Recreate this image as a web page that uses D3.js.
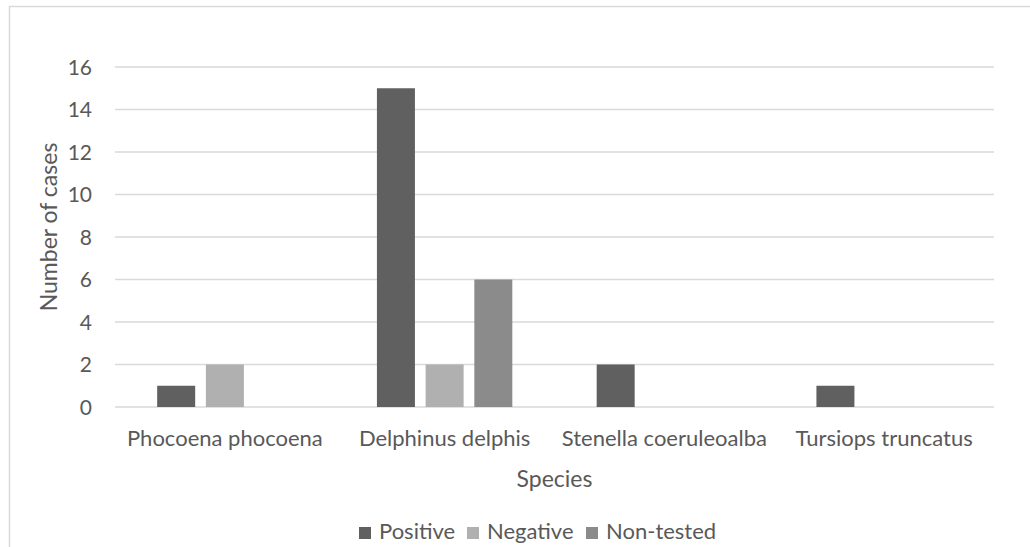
<!DOCTYPE html>
<html><head><meta charset="utf-8">
<script src="https://cdn.jsdelivr.net/npm/d3@7"></script>
<style>
body{margin:0;background:#fff;}
svg text{font-family:"Lato","Open Sans",sans-serif;fill:#595959;}
</style></head>
<body><svg id="c" width="1030" height="547"></svg>
<script>
const categories = ["Phocoena phocoena","Delphinus delphis","Stenella coeruleoalba","Tursiops truncatus"];
const seriesNames = ["Positive","Negative","Non-tested"];
const positive = [1,15,2,1];
const negative = [2,2,0,0];
const nonTested = [0,6,0,0];
const yTicks = [0,2,4,6,8,10,12,14,16];
const colors = ["#606060","#b0b0b0","#8b8b8b"];

const svg = d3.select("#c");
svg.append("rect").attr("x",9.5).attr("y",6.5).attr("width",1030).attr("height",560)
  .attr("fill","#fff").attr("stroke","#d9d9d9").attr("stroke-width",1.5);

const L=115, R=994, T=67, B=407;
const x = d3.scaleBand().domain(categories).range([L,R]).paddingInner(0).paddingOuter(0);
const y = d3.scaleLinear().domain([0,16]).range([B,T]);
const series = [positive,negative,nonTested];
const barW = 38, gap = 10.7;

// gridlines
svg.append("g").selectAll("line").data(yTicks).join("line")
  .attr("x1",L).attr("x2",R).attr("y1",d=>y(d)).attr("y2",d=>y(d))
  .attr("stroke","#d9d9d9").attr("stroke-width",1.5);

// y tick labels
const yAxis = d3.axisLeft(y).tickValues(yTicks).tickSize(0).tickPadding(0);
const ya = svg.append("g").attr("transform",`translate(${L-23},0)`).call(yAxis);
ya.select(".domain").remove();
ya.attr("font-family",null).attr("font-size",null);
ya.selectAll("text").style("font-size","21px").attr("fill","#595959").attr("dy","0.35em");

// bars
const groupW = barW*3+gap*2;
series.forEach((vals,si)=>{
  svg.append("g").selectAll("rect").data(categories).join("rect")
    .attr("x",(c)=>x(c)+x.bandwidth()/2-groupW/2+si*(barW+gap))
    .attr("y",(c,i)=>y(vals[i]))
    .attr("width",barW)
    .attr("height",(c,i)=>B-y(vals[i]))
    .attr("fill",colors[si]);
});

// x axis labels
const xAxis = d3.axisBottom(x).tickSize(0).tickPadding(0);
const xa = svg.append("g").attr("transform",`translate(0,446)`).call(xAxis);
xa.select(".domain").remove();
xa.attr("font-family",null).attr("font-size",null);
xa.selectAll("text").style("font-size","22px").attr("fill","#595959").attr("dy","0");

// axis titles
svg.append("text").attr("x",(L+R)/2).attr("y",487).attr("text-anchor","middle")
  .style("font-size","23px").text("Species");
svg.append("text").attr("transform",`translate(57,227) rotate(-90)`).attr("text-anchor","middle")
  .style("font-size","23px").text("Number of cases");

// legend
const legX = [359,467,586];
const lg = svg.append("g");
seriesNames.forEach((n,i)=>{
  lg.append("rect").attr("x",legX[i]).attr("y",527).attr("width",12).attr("height",12).attr("fill",colors[i]);
  lg.append("text").attr("x",legX[i]+20).attr("y",539).style("font-size","22px").text(n);
});
</script></body></html>
